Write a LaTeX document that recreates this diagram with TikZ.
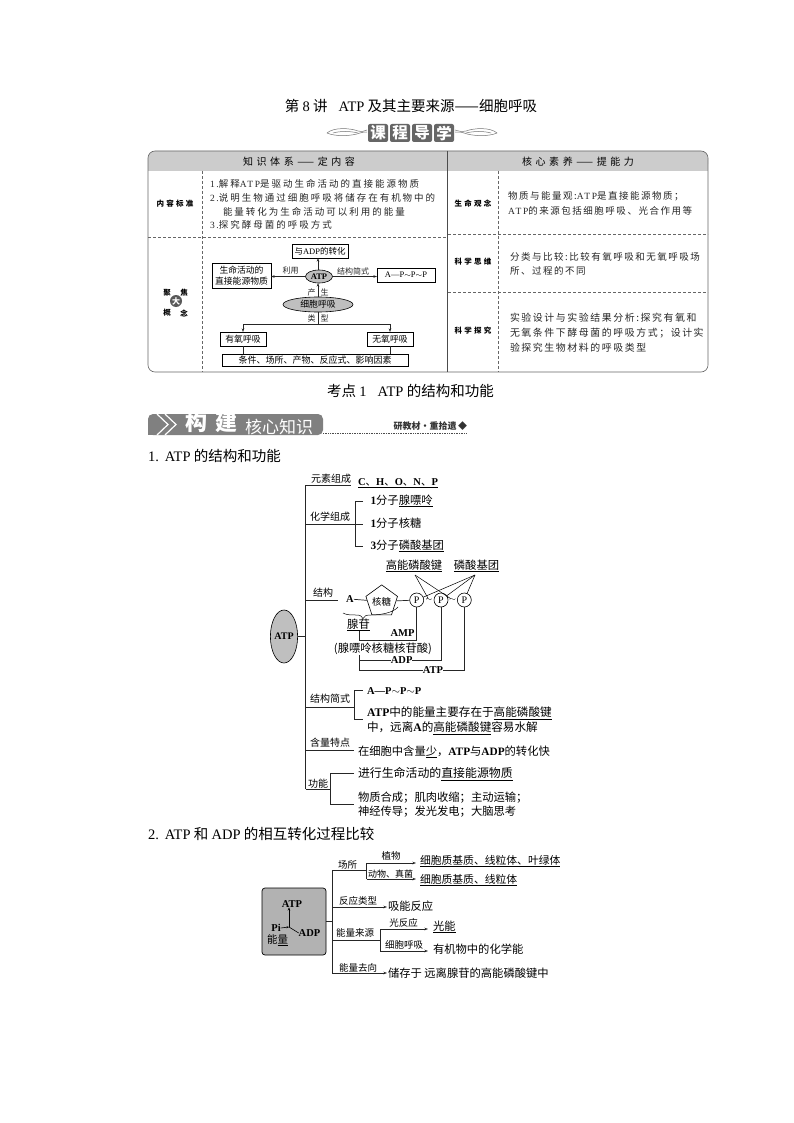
\documentclass[tikz,border=0pt]{standalone}
\usepackage{fontspec}
\setmainfont{Liberation Serif}
\newfontfamily\cjk{Noto Sans CJK SC}
\newfontfamily\cjksp[LetterSpace=16]{Noto Sans CJK SC}
\newfontfamily\cjkspw[LetterSpace=21]{Noto Sans CJK SC}
\newfontfamily\cjkhd[LetterSpace=36]{Noto Sans CJK SC}
\newfontfamily\cjktiny[LetterSpace=30]{Noto Sans CJK SC}
\newfontfamily\latsp[LetterSpace=18]{Liberation Serif}
\newcommand\lsp[1]{{\latsp #1}}
\newcommand\rr[1]{{\rmfamily #1}}
\newcommand\rb[1]{{\rmfamily\bfseries #1}}
\newcommand\dun{{\cjk\mdseries 、}}
\newcommand\twid{$\sim$}
\newcommand\fsc{^^^^ff1b}
\newcommand\fcm{^^^^ff0c}
\usetikzlibrary{arrows.meta,shapes.geometric}
\definecolor{hdr}{gray}{0.80}
\definecolor{ban}{gray}{0.50}
\definecolor{ell}{gray}{0.75}
\tikzset{
 x=1pt,y=-1pt,
 every node/.style={inner sep=0pt,outer sep=0pt,font=\cjk\fontsize{11}{13}\selectfont},
 ln/.style={line width=0.7pt,black!85},
 dsh/.style={line width=0.4pt,black!60,densely dashed},
 boxn/.style={draw,line width=0.6pt,font=\cjk\fontsize{8.8}{11}\selectfont,align=center},
 lab/.style={font=\cjk\fontsize{8}{10}\selectfont,black!85},
 body/.style={font=\cjksp\fontsize{9.5}{12}\selectfont,anchor=west,black!85},
 bodyw/.style={font=\cjkspw\fontsize{9.5}{12}\selectfont,anchor=west,black!85},
 bodyl/.style={font=\cjksp\fontsize{9.9}{12}\selectfont,anchor=west,black!85},
 head/.style={font=\cjkhd\fontsize{10}{12}\selectfont},
 side/.style={font=\cjktiny\bfseries\fontsize{7.5}{9}\selectfont},
 sidec/.style={font=\cjk\bfseries\fontsize{7.5}{9}\selectfont},
 t1/.style={font=\cjk\fontsize{14.5}{17}\selectfont},
 br/.style={font=\cjk\fontsize{11.3}{13}\selectfont,anchor=west},
 brb/.style={font=\cjk\fontsize{11.6}{13}\selectfont,anchor=west},
 brs/.style={font=\cjk\fontsize{10}{12}\selectfont},
 brt/.style={font=\cjk\fontsize{9.5}{11}\selectfont},
 ser/.style={font=\rmfamily\bfseries\fontsize{10.5}{12}\selectfont},
 arr/.style={ln,-{Stealth[length=3.5pt,width=2.5pt]}},
 thn/.style={line width=0.5pt},
 orn/.style={line width=0.5pt,black!55},
 pc/.style={draw,circle,line width=0.6pt,minimum size=14pt,font=\rmfamily\fontsize{10}{11}\selectfont},
}
\begin{document}
\begin{tikzpicture}
\useasboundingbox (0,0) rectangle (794,1123);
\fill[white] (0,0) rectangle (794,1123);
% Title
\node[t1] (title) at (411,106) {第 \rr{8} 讲\hspace{11pt}\rr{ATP} 及其主要来源——细胞呼吸};
% ornament
\draw[orn] (327,133) .. controls (334,127) and (350,128) .. (358,131) .. controls (362,132) and (365,131) .. (367,130);
\draw[orn] (327,133) .. controls (336,137) and (352,136) .. (360,133) .. controls (362,132) and (365,132) .. (367,132);
\draw[orn] (333,133) .. controls (340,131) and (350,131) .. (358,133);
\draw[orn] (497,133) .. controls (490,127) and (474,128) .. (466,131) .. controls (462,132) and (458,131) .. (455,130);
\draw[orn] (497,133) .. controls (488,137) and (472,136) .. (464,133) .. controls (462,132) and (458,132) .. (455,132);
\draw[orn] (491,133) .. controls (484,131) and (474,131) .. (466,133);
\foreach \x/\c/\n in {378/课/oa,400/程/ob,422/导/oc,444/学/od}{
 \node[fill=black!60,rounded corners=2pt,minimum width=20pt,minimum height=18pt,text=white,font=\cjk\bfseries\fontsize{15.5}{15.5}\selectfont] (\n) at (\x,133) {\c};
}
% Table
\fill[hdr,rounded corners=7pt] (148,151) rectangle (708,171);
\fill[hdr] (148,163) rectangle (708,171);
\draw[line width=0.6pt,black!60,rounded corners=7pt] (148,151) rectangle (708,372);
\draw[line width=0.5pt,black!70] (447.5,151) -- (447.5,372);
\draw[dsh] (202.5,171) -- (202.5,372);
\draw[dsh] (498.5,171) -- (498.5,372);
\draw[dsh] (148,237) -- (447,237);
\draw[dsh] (448,234) -- (708,234);
\draw[dsh] (448,292) -- (708,292);
\node[head] (h1) at (299,161.5) {知识体系——定内容};
\node[head] (h2) at (578,161.5) {核心素养——提能力};
\node[side] (s1) at (175,204) {内容标准};
\node[side] (s3) at (473,204) {生命观念};
\node[side] (s4) at (473,262) {科学思维};
\node[side] (s5) at (473,331) {科学探究};
\node[sidec] (s2a) at (167,293) {聚};
\node[sidec] (s2b) at (184,293) {焦};
\node[sidec] (s2c) at (167,313) {概};
\node[sidec] (s2d) at (184,313) {念};
\node[circle,fill=black!65,minimum size=12pt,text=white,font=\cjk\bfseries\fontsize{8}{8}\selectfont] (s2e) at (176,301) {大};
\node[bodyw] (c1a) at (210,184) {\lsp{1.}解释\lsp{ATP}是驱动生命活动的直接能源物质};
\node[bodyw] (c1b) at (210,197.6) {\lsp{2.}说明生物通过细胞呼吸将储存在有机物中的};
\node[bodyw] (c1c) at (223,211.6) {能量转化为生命活动可以利用的能量};
\node[bodyw] (c1d) at (210,225) {\lsp{3.}探究酵母菌的呼吸方式};
\node[body] (c3a) at (508,196) {物质与能量观:\lsp{ATP}是直接能源物质\fsc};
\node[body] (c3b) at (508,211) {\lsp{ATP}的来源包括细胞呼吸、光合作用等};
\node[body] (c4a) at (510,256.5) {分类与比较:比较有氧呼吸和无氧呼吸场};
\node[body] (c4b) at (510,271) {所、过程的不同};
\node[bodyl] (c5a) at (510,318) {实验设计与实验结果分析:探究有氧和};
\node[bodyl] (c5b) at (510,333) {无氧条件下酵母菌的呼吸方式\fsc 设计实};
\node[bodyl] (c5c) at (510,348) {验探究生物材料的呼吸类型};
% concept map
\node[boxn,font=\cjk\fontsize{8.5}{11}\selectfont,minimum width=56pt,minimum height=14pt] (adp) at (320,251) {与\rr{ADP}的转化};
\node[boxn,minimum width=59pt,minimum height=25pt] (life) at (241.5,275.5) {生命活动的\\直接能源物质};
\node[boxn,ellipse,fill=ell,font=\rmfamily\bfseries\fontsize{8.5}{10}\selectfont,minimum width=27pt,minimum height=13pt] (atp) at (319,276.5) {ATP};
\node[boxn,font=\rmfamily\fontsize{8.5}{10}\selectfont,minimum width=58pt,minimum height=14pt] (form) at (406,275) {A—P\twid P\twid P};
\node[boxn,ellipse,fill=ell,minimum width=70pt,minimum height=15pt] (resp) at (318,304.5) {细胞呼吸};
\node[boxn,minimum width=46pt,minimum height=14pt] (aer) at (243,339) {有氧呼吸};
\node[boxn,minimum width=46pt,minimum height=14pt] (ana) at (390,339) {无氧呼吸};
\node[boxn,font=\cjk\fontsize{9}{11}\selectfont,minimum width=186pt,minimum height=12pt] (cond) at (315,360) {条件、场所、产物、反应式、影响因素};
\draw[arr] (atp.north-|resp) -- (adp.south-|resp);
\draw[arr] (atp.west) -- (life.east|-atp.west);
\draw[arr] (atp.east) -- (form.west|-atp.east);
\draw[arr] (resp.north) -- (resp.north|-atp.south);
\coordinate (bus) at (318,324);
\draw[ln] (resp) -- (bus);
\draw[arr] (bus) -| (aer);
\draw[arr] (bus) -| (ana);
\draw[ln] (aer.south) -- (aer.south|-cond.north);
\draw[ln] (ana.south) -- (ana.south|-cond.north);
\node[lab] (l1) at (290.5,271) {利用};
\node[lab] (l2) at (353,271.5) {结构简式};
\node[lab] (l3) at (318,292) {产\hspace{5pt}生};
\node[lab] (l4) at (318,318) {类\hspace{5pt}型};
% section
\node[t1] (sec) at (410.5,390.5) {考点 \rr{1}\hspace{11pt}\rr{ATP} 的结构和功能};
\fill[ban,rounded corners=5pt] (148,414) rectangle (323,435);
\fill[ban] (148,420) rectangle (160,435);
\draw[white,line width=1.2pt] (157,414) -- (168,424.5) -- (157,435);
\draw[white,line width=1.2pt] (165,414) -- (176,424.5) -- (165,435);
\node[text=white,font=\cjk\bfseries\fontsize{22}{22}\selectfont] (b1) at (196,422) {构};
\node[text=white,font=\cjk\bfseries\fontsize{22}{22}\selectfont] (b1b) at (226,422) {建};
\node[text=white,font=\cjk\fontsize{17}{17}\selectfont] (b2) at (279,427) {核心知识};
\draw[line width=0.7pt,black!70,densely dotted] (323,433.5) -- (467,433.5);
\node[font=\cjk\bfseries\fontsize{9}{10}\selectfont,anchor=east,black!80] (b3) at (467,426.5) {研教材·重拾遗\,◆};
\node[t1,anchor=west] (s1t) at (148,456) {\rr{1.\hspace{6pt}ATP} 的结构和功能};
\node[t1,anchor=west] (s2t) at (148,834) {\rr{2.\hspace{6pt}ATP} 和 \rr{ADP} 的相互转化过程比较};
% Diagram 1
\node[draw,ellipse,fill=ell,line width=0.6pt,minimum width=24pt,minimum height=53pt,font=\rmfamily\bfseries\fontsize{10}{11}\selectfont] (A) at (284,636.5) {ATP};
\coordinate (Btop) at (305.7,485);
\coordinate (Bbot) at (305.7,789);
\draw[ln] (Btop) -- (Bbot);
\draw[ln] (A) -- (A-|Btop);
\coordinate (c1e) at (351,485);
\coordinate (c2e) at (363,524);
\coordinate (c3e) at (338,600);
\coordinate (c4e) at (354,707);
\coordinate (c5e) at (354,750);
\coordinate (c6e) at (330,789);
\draw[ln] (Btop) -- (c1e);
\draw[ln] (Btop|-c2e) -- (c2e);
\draw[ln] (Btop|-c3e) -- (c3e);
\draw[ln] (Btop|-c4e) -- (c4e);
\draw[ln] (Btop|-c5e) -- (c5e);
\draw[ln] (Btop|-c6e) -- (c6e);
\node[brs] (n1) at (331,479) {元素组成};
\node[brs] (n2) at (330,517) {化学组成};
\node[brs] (n3) at (323,593) {结构};
\node[brs] (n4) at (330,699) {结构简式};
\node[brs] (n5) at (330,743) {含量特点};
\node[brs] (n6) at (318,784) {功能};
\node[br,font=\rmfamily\bfseries\fontsize{10.5}{12}\selectfont] (e1) at (358,483) {\underline{C\dun H\dun O\dun N\dun P}};
% chem
\draw[ln] (363,501) -- (355,501) -- (355,546) -- (363,546);
\node[br] (f1) at (370.5,501) {\rb{1}分子\underline{腺嘌呤}};
\node[br] (f2) at (370.5,523) {\rb{1}分子核糖};
\node[br] (f3) at (370.5,546) {\rb{3}分子\underline{磷酸基团}};
% structure
\node[br,anchor=center] (gn) at (414,566) {\underline{高能磷酸键}};
\node[br,anchor=center] (pg) at (476.5,566) {\underline{磷酸基团}};
\node[ser] (nA) at (350,599) {A};
\node[draw,regular polygon,regular polygon sides=5,line width=0.6pt,minimum size=31pt,font=\cjk\fontsize{9.5}{11}\selectfont] (rib) at (381.7,601.5) {核糖};
\node[pc] (p1) at (416.7,600) {P};
\node[pc] (p2) at (441,600) {P};
\node[pc] (p3) at (464.3,600) {P};
\node[font=\rmfamily\fontsize{8}{8}\selectfont] (t1) at (429,600) {\twid};
\node[font=\rmfamily\fontsize{8}{8}\selectfont] (t2) at (452.7,600) {\twid};
\draw[ln] (nA) -- (rib);
\draw[ln] (rib) -- (p1);
\coordinate (gnb) at (415,575);
\coordinate (pgb) at (475,575);
\draw[thn] (gnb) -- (t1);
\draw[thn] (gnb) -- (t2);
\draw[thn] (pgb) -- (p1);
\draw[thn] (pgb) -- (p2);
\draw[thn] (pgb) -- (p3);
\draw[thn] (343,613) .. controls (346,615) and (352,615) .. (356,615) .. controls (360,615) and (362,616) .. (363,618.5) .. controls (364,616) and (366,615) .. (371,615) .. controls (380,615) and (393,613) .. (398,607);
\node[br,anchor=center] (xg) at (358.5,625) {\underline{腺苷}};
\node[ser] (amp) at (402.5,633) {AMP};
\node[font=\cjk\fontsize{11.3}{13}\selectfont] (xh) at (383,649) {(腺嘌呤核糖核苷酸)};
\node[ser] (adp2) at (401.7,660.5) {ADP};
\node[ser] (atp2) at (433,670) {ATP};
\coordinate (xgc) at (359,640);
\draw[ln] (xg.south-|xgc) -- (xgc) -| (p1.south);
\draw[ln] (xh.south-|xgc) -- (xgc|-atp2) -- (atp2.west);
\draw[ln] (atp2.east) -| (p3.south);
\draw[ln] (xgc|-adp2) -- (adp2.west);
\draw[ln] (adp2.east) -| (p2.south);
% formula
\draw[ln] (362.7,690) -- (354,690) -- (354,719) -- (362.7,719);
\node[br,font=\rmfamily\bfseries\fontsize{10.5}{12}\selectfont] (g1) at (367,691) {A—P\twid P\twid P};
\node[brb] (g2) at (367,713) {\rb{ATP}中的能量主要存在于\underline{高能磷酸键}};
\node[brb] (g2b) at (367,728) {中\fcm 远离\rb{A}的\underline{高能磷酸键}容易水解};
\node[br] (g3) at (358,752) {在细胞中含量\underline{少}\fcm\rb{ATP}与\rb{ADP}的转化快};
\draw[ln] (354,773) -- (330,773) -- (330,804) -- (354,804);
\node[brb,font=\cjk\fontsize{11.9}{13}\selectfont] (h1a) at (358,774) {进行生命活动的\underline{直接能源物质}};
\node[br] (h2a) at (358,798) {物质合成\fsc 肌肉收缩\fsc 主动运输\fsc};
\node[br] (h2b) at (358,812) {神经传导\fsc 发光发电\fsc 大脑思考};
% Diagram 2
\node[draw,fill=black!30,rounded corners=3pt,line width=0.7pt,minimum width=64pt,minimum height=67pt] (cbox) at (294,921.5) {};
\node[ser] (bATP) at (292,904) {ATP};
\node[ser] (bPi) at (276,928) {Pi};
\node[font=\cjk\fontsize{10.5}{12}\selectfont] (bE) at (277.5,940) {能\underline{量}};
\node[ser] (bADP) at (309.5,933) {ADP};
\coordinate (bj) at (289,927);
\draw[line width=0.6pt,-{Stealth[length=3pt,width=2.5pt]}] (bj) -- (bATP.south-|bj);
\draw[line width=0.6pt] (bADP.west) -- (bj);
\draw[line width=0.6pt,-{Stealth[length=2.5pt,width=2pt]}] (bPi.east) -- (bj);
\coordinate (V2t) at (332,870);
\coordinate (V2b) at (332,973);
\draw[ln] (V2t) -- (V2b);
\draw[ln] (cbox.east) -- (cbox.east-|V2t);
\coordinate (J1) at (366.7,870);
\draw[ln] (V2t) -- (J1);
\node[brt] (m1) at (347.5,865) {场所};
\coordinate (J1a) at (366.7,863);
\coordinate (J1b) at (366.7,879);
\draw[ln] (J1a) -- (J1b);
\node[brt] (m1a) at (391,856) {植物};
\node[brt,font=\cjk\fontsize{9}{11}\selectfont] (m1b) at (390.5,874) {动物、真菌};
\node[br,font=\cjk\fontsize{10.8}{13}\selectfont] (r1) at (420,861) {\underline{细胞质基质、线粒体、叶绿体}};
\node[br,font=\cjk\fontsize{10.8}{13}\selectfont] (r2) at (420,880) {\underline{细胞质基质、线粒体}};
\coordinate (a1) at (416,863);
\coordinate (a2) at (416,879);
\draw[arr] (J1a) -- (a1);
\draw[arr] (J1b) -- (a2);
\coordinate (J2) at (387,907);
\draw[arr] (V2t|-J2) -- (J2);
\node[brt] (m2) at (358,901) {反应类型};
\node[br] (r3) at (388,905.7) {吸能反应};
\coordinate (J3) at (380,940);
\draw[ln] (V2t|-J3) -- (J3);
\node[brt] (m3) at (355,933) {能量来源};
\coordinate (J3a) at (380,929);
\coordinate (J3b) at (380,951);
\draw[ln] (J3a) -- (J3b);
\node[brt] (m3a) at (403.5,923) {光反应};
\node[brt] (m3b) at (404,945) {细胞呼吸};
\node[br] (r4) at (433,927) {\underline{光能}};
\node[br] (r5) at (433,949) {有机物中的化学能};
\coordinate (a4) at (428,929);
\coordinate (a5) at (428,951);
\draw[arr] (J3a) -- (a4);
\draw[arr] (J3b) -- (a5);
\coordinate (J4) at (387,973);
\draw[arr] (V2b) -- (J4);
\node[brt] (m4) at (358,968) {能量去向};
\node[br] (r6) at (388,973) {储存于 远离腺苷的高能磷酸键中};
\end{tikzpicture}
\end{document}
